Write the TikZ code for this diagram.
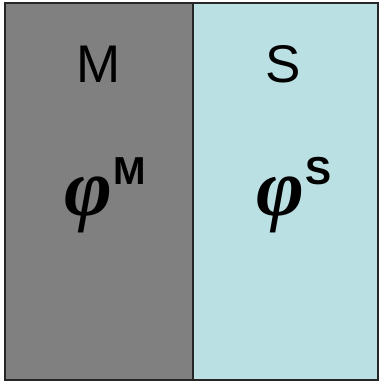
\documentclass[tikz,border=0pt]{standalone}
\usepackage{fontspec}
\setmainfont{Liberation Sans}
\newfontfamily\phifont{Liberation Serif}
\definecolor{metalgrey}{HTML}{808080}
\definecolor{semicyan}{HTML}{BBE0E3}
\tikzset{
  x=1pt, y=1pt,
  region/.style={draw=black!85, line width=1.5pt},
  label/.style={inner sep=0pt, anchor=base, font=\fontsize{53}{58}\selectfont},
  phi/.style={inner sep=0pt, anchor=base west, font=\fontsize{82}{88}\selectfont\phifont\bfseries\itshape},
  sup/.style={inner sep=0pt, anchor=base west, font=\fontsize{39}{44}\selectfont\bfseries}
}
\begin{document}
\begin{tikzpicture}
\useasboundingbox (0,0) rectangle (379,-381);
% metal and semiconductor regions
\path[region, fill=metalgrey] (5,-3) rectangle (193,-380);
\path[region, fill=semicyan] (193,-3) rectangle (378,-380);
% region names
\node[label] (nameM) at (98.5,-82) {M};
\node[label] (nameS) at (283,-82) {S};
% work functions
\node[phi] (phiM) at (64,-215) {φ};
\node[sup] (supM) at (113,-184) {M};
\node[phi] (phiS) at (256,-215) {φ};
\node[sup] (supS) at (305,-184) {S};
\end{tikzpicture}
\end{document}
